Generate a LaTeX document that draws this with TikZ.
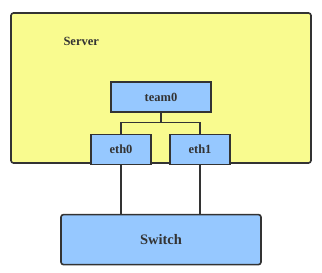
\documentclass[tikz,border=0pt]{standalone}
\usepackage{fontspec}
\setmainfont{Liberation Serif}
\usetikzlibrary{positioning}
\definecolor{serveryellow}{HTML}{F9FB8F}
\definecolor{nicblue}{HTML}{96C8FF}
\definecolor{edgegray}{HTML}{333333}
\tikzset{
    box/.style={rectangle, draw=edgegray, line width=1.6pt, text=edgegray, align=center, font=\fontsize{12.5}{14}\selectfont\bfseries},
    serverbox/.style={box, fill=serveryellow, rounded corners=2.5pt},
    nicbox/.style={box, fill=nicblue, minimum width=60pt, minimum height=30pt},
    switchbox/.style={box, fill=nicblue, rounded corners=2.5pt, minimum width=200pt, minimum height=50pt, font=\fontsize{14.5}{16}\selectfont\bfseries},
    link/.style={draw=edgegray, line width=1.3pt}
}
\begin{document}
\begin{tikzpicture}[x=1pt, y=-1pt]
    \useasboundingbox (0,0) rectangle (322,273);
    \node[serverbox, minimum width=300pt, minimum height=150pt] (server) at (161,88) {};
    \node[anchor=west, text=edgegray, font=\fontsize{12.5}{14}\selectfont\bfseries] (serverlabel) at (60,41) {Server};
    \node[nicbox, minimum width=100pt] (team0) at (161,97) {team0};
    \node[nicbox, below=21pt of team0.south, anchor=north, xshift=-40pt] (eth0) {eth0};
    \node[nicbox, below=21pt of team0.south, anchor=north, xshift=39pt] (eth1) {eth1};
    \node[switchbox, below=101pt of team0] (switch) {Switch};
    \draw[link] (team0.south) -- ++(0,10) -| (eth0.north);
    \draw[link] (team0.south) -- ++(0,10) -| (eth1.north);
    \draw[link] (eth0.south) -- (eth0.south |- switch.north);
    \draw[link] (eth1.south) -- (eth1.south |- switch.north);
\end{tikzpicture}
\end{document}
